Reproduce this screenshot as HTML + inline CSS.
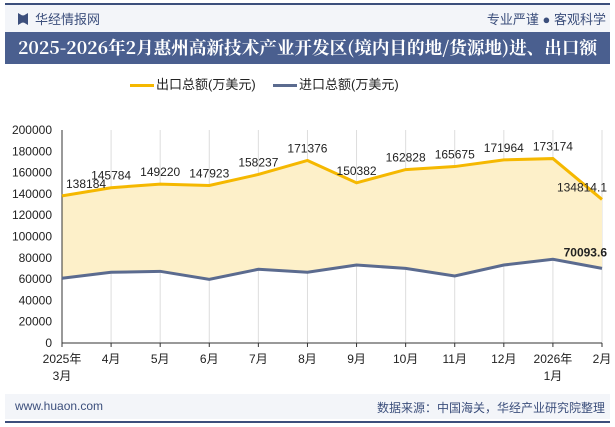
<!DOCTYPE html>
<html><head><meta charset="utf-8">
<style>
body{margin:0;width:615px;height:427px;overflow:hidden;background:#fff;font-family:"Liberation Sans","Noto Sans CJK SC",sans-serif;position:relative}
.abs{position:absolute}
</style></head><body>
<div class="abs" style="left:5px;top:3px;width:605px;height:2px;background:#3c4f7c"></div>
<div class="abs" style="left:5px;top:5px;width:605px;height:27px;background:#f3f5f9"></div>
<div class="abs" style="left:18px;top:13px;width:10px;height:12px;background:#3c4f7c;clip-path:polygon(0 0,40% 20%,60% 20%,100% 0,100% 100%,60% 80%,40% 80%,0 100%)"></div>
<div class="abs" style="left:35px;top:9px;font-size:13px;color:#3c4f7c">华经情报网</div>
<div class="abs" style="right:9px;top:9px;font-size:13px;color:#3c4f7c">专业严谨 ● 客观科学</div>
<div class="abs" style="left:5px;top:32px;width:605px;height:32px;background:#4a5f8f;color:#fff;font-family:'Noto Serif CJK SC','Liberation Serif',serif;font-weight:bold;font-size:17.6px;line-height:32px;text-align:center;white-space:nowrap">2025-2026年2月惠州高新技术产业开发区(境内目的地/货源地)进、出口额</div>
<div class="abs" style="left:130px;top:74px;font-size:13px;color:#222;white-space:nowrap"><span style="display:inline-block;width:24px;height:3px;background:#f5b800;vertical-align:middle;margin-right:2px"></span>出口总额(万美元)</div>
<div class="abs" style="left:273px;top:74px;font-size:13px;color:#222;white-space:nowrap"><span style="display:inline-block;width:24px;height:3px;background:#5b6b8f;vertical-align:middle;margin-right:2px"></span>进口总额(万美元)</div>
<svg class="abs" style="left:0;top:0" width="615" height="427" id="chart"></svg>
<div class="abs" style="left:5px;top:394px;width:605px;height:25px;background:#f3f5f9"></div>
<div class="abs" style="left:15px;top:399px;font-size:12px;color:#3c4f7c">www.huaon.com</div>
<div class="abs" style="right:10px;top:399px;font-size:12px;color:#3c4f7c">数据来源：中国海关，华经产业研究院整理</div>
<div class="abs" style="left:5px;top:421px;width:605px;height:2px;background:#3c4f7c"></div>
<script>
const categories=["2025年\n3月","4月","5月","6月","7月","8月","9月","10月","11月","12月","2026年\n1月","2月"];
const exportVals=[138184,145784,149220,147923,158237,171376,150382,162828,165675,171964,173174,134814.1];
const importVals=[60800,66400,67300,59800,69200,66400,73200,70100,62900,73200,78600,70093.6];
const exportLabels=["138184","145784","149220","147923","158237","171376","150382","162828","165675","171964","173174","134814.1"];
const yTicks=[0,20000,40000,60000,80000,100000,120000,140000,160000,180000,200000];
const NS="http://www.w3.org/2000/svg";
const svg=document.getElementById('chart');
const x0=62,x1=602,y0=343,y1=130;
const xs=i=>x0+i*(x1-x0)/(categories.length-1);
const ys=v=>y0-(v/200000)*(y0-y1);
function mk(t,a){const e=document.createElementNS(NS,t);for(const k in a)e.setAttribute(k,a[k]);svg.appendChild(e);return e;}
yTicks.forEach(v=>{
 const t=mk('text',{x:52,y:ys(v)+4,'text-anchor':'end','font-size':'12',fill:'#222'});
 
 
 t.textContent=v;
});
categories.forEach((c,i)=>{
 const g=mk('line',{x1:xs(i),x2:xs(i),y1:y1,y2:y0,stroke:'#ddd','stroke-width':1});
 
 
});
let pts=exportVals.map((v,i)=>xs(i)+','+ys(v)).join(' ')+' '+importVals.map((v,i)=>xs(i)+','+ys(v)).reverse().join(' ');
const area=mk('polygon',{points:pts,fill:'#fdf0c9'});


const ax=mk('line',{x1:x0,x2:x0,y1:y1,y2:y0,stroke:'#333','stroke-width':1});


const bx=mk('line',{x1:x0,x2:x1,y1:y0,y2:y0,stroke:'#333','stroke-width':1});


categories.forEach((c,i)=>{
 const tk=mk('line',{x1:xs(i),x2:xs(i),y1:y0,y2:y0+4,stroke:'#333'});
 
 
 c.split('\n').forEach((ln,j)=>{
  const t=mk('text',{x:xs(i),y:y0+20+j*17,'text-anchor':'middle','font-size':'12',fill:'#222'});
  
  
  t.textContent=ln;
 });
});
const le=mk('polyline',{points:exportVals.map((v,i)=>xs(i)+','+ys(v)).join(' '),fill:'none',stroke:'#f5b800','stroke-width':3});


const li=mk('polyline',{points:importVals.map((v,i)=>xs(i)+','+ys(v)).join(' '),fill:'none',stroke:'#5b6b8f','stroke-width':3});


exportVals.forEach((v,i)=>{
 let x=xs(i),anchor='middle';
 if(i===0){x=x+4;anchor='start';}
 if(i===exportVals.length-1){x=x+5;anchor='end';}
 const t=mk('text',{x:x,y:ys(v)-8,'text-anchor':anchor,'font-size':'12',fill:'#222'});
 
 
 t.textContent=exportLabels[i];
});
const n=importVals.length-1;
const il=mk('text',{x:xs(n)+5,y:ys(importVals[n])-12,'text-anchor':'end','font-size':'12','font-weight':'bold',fill:'#222'});


il.textContent=importVals[n];
</script>
</body></html>
